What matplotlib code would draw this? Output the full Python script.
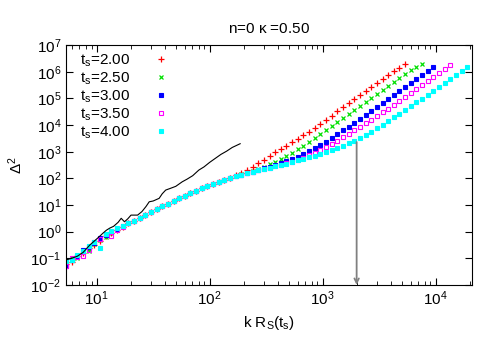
import matplotlib
matplotlib.use("Agg")
import matplotlib.pyplot as plt
import numpy as np

plt.rcParams['font.family'] = ['Liberation Sans', 'DejaVu Sans']
plt.rcParams['mathtext.fontset'] = 'custom'
plt.rcParams['mathtext.rm'] = 'Liberation Sans'
plt.rcParams['mathtext.it'] = 'Liberation Sans:italic'
plt.rcParams['mathtext.default'] = 'rm'

# log10 of k R_S(t_s) grid shared by the series
logk = [0.73, 0.78, 0.83, 0.88, 0.93, 0.98, 1.03, 1.08, 1.13, 1.18, 1.23, 1.28,
        1.33, 1.38, 1.43, 1.48, 1.53, 1.58, 1.63, 1.68, 1.73, 1.78, 1.83, 1.88,
        1.93, 1.98, 2.03, 2.08, 2.13, 2.18, 2.23, 2.28, 2.33, 2.38, 2.43, 2.48,
        2.53, 2.58, 2.63, 2.68, 2.73, 2.78, 2.83, 2.88, 2.93, 2.98, 3.03, 3.08,
        3.13, 3.18, 3.23, 3.28, 3.33, 3.38, 3.43, 3.48, 3.53, 3.58, 3.63, 3.68,
        3.73, 3.78, 3.83, 3.88, 3.93, 3.98, 4.03, 4.08, 4.13, 4.18, 4.23, 4.28]

# log10 of Delta^2 for each t_s
d_200 = [-1.20, -1.15, -0.92, -0.80, -0.62, -0.52, -0.35, -0.17, -0.05, 0.07, 0.19, 0.31,
         0.41, 0.51, 0.62, 0.73, 0.84, 0.95, 1.05, 1.15, 1.25, 1.35, 1.45, 1.54,
         1.63, 1.71, 1.79, 1.87, 1.95, 2.03, 2.11, 2.20, 2.31, 2.43, 2.56, 2.70,
         2.84, 2.98, 3.10, 3.23, 3.35, 3.48, 3.61, 3.75, 3.89, 4.04, 4.19, 4.35,
         4.51, 4.66, 4.82, 4.97, 5.12, 5.27, 5.42, 5.57, 5.72, 5.87, 6.02, 6.16,
         6.30]
d_250 = [-1.10, -1.00, -0.98, -0.75, -0.72, -0.48, -0.30, -0.22, -0.05, 0.07, 0.20, 0.31,
         0.41, 0.51, 0.62, 0.73, 0.84, 0.95, 1.05, 1.15, 1.25, 1.35, 1.45, 1.54,
         1.63, 1.71, 1.79, 1.87, 1.94, 2.01, 2.08, 2.15, 2.21, 2.28, 2.35, 2.43,
         2.52, 2.62, 2.73, 2.85, 2.97, 3.10, 3.23, 3.37, 3.51, 3.66, 3.81, 3.96,
         4.11, 4.26, 4.41, 4.56, 4.71, 4.86, 5.01, 5.16, 5.31, 5.46, 5.61, 5.76,
         5.91, 6.05, 6.18, 6.28]
d_300 = [-1.28, -1.05, -0.90, -0.70, -0.58, -0.42, -0.25, -0.13, -0.02, 0.08, 0.20, 0.31,
         0.41, 0.51, 0.62, 0.73, 0.84, 0.95, 1.05, 1.15, 1.25, 1.35, 1.45, 1.54,
         1.63, 1.71, 1.79, 1.87, 1.94, 2.01, 2.07, 2.13, 2.19, 2.25, 2.31, 2.37,
         2.43, 2.50, 2.57, 2.64, 2.72, 2.81, 2.91, 3.02, 3.13, 3.25, 3.38, 3.52,
         3.66, 3.80, 3.94, 4.09, 4.24, 4.39, 4.54, 4.69, 4.84, 4.99, 5.14, 5.29,
         5.44, 5.59, 5.74, 5.89, 6.04, 6.19]
d_350 = [-1.28, -1.00, -0.96, -0.92, -0.70, -0.40, -0.28, -0.08, -0.18, 0.05, 0.18, 0.31,
         0.41, 0.51, 0.62, 0.73, 0.84, 0.95, 1.05, 1.15, 1.25, 1.35, 1.45, 1.54,
         1.63, 1.71, 1.79, 1.87, 1.94, 2.01, 2.07, 2.13, 2.19, 2.25, 2.30, 2.35,
         2.40, 2.45, 2.50, 2.56, 2.62, 2.69, 2.77, 2.86, 2.96, 3.07, 3.18, 3.30,
         3.42, 3.55, 3.68, 3.81, 3.94, 4.07, 4.20, 4.34, 4.48, 4.62, 4.76, 4.90,
         5.05, 5.20, 5.35, 5.50, 5.65, 5.80, 5.95, 6.10, 6.25]
d_400 = [-1.10, -1.05, -0.88, -0.72, -0.55, -0.40, -0.62, -0.10, 0.04, 0.12, 0.22, 0.32,
         0.41, 0.51, 0.62, 0.73, 0.84, 0.95, 1.05, 1.15, 1.25, 1.35, 1.45, 1.54,
         1.63, 1.71, 1.79, 1.87, 1.94, 2.01, 2.07, 2.13, 2.19, 2.25, 2.30, 2.35,
         2.40, 2.45, 2.50, 2.55, 2.61, 2.67, 2.73, 2.79, 2.85, 2.91, 2.98, 3.05,
         3.13, 3.22, 3.31, 3.41, 3.52, 3.63, 3.75, 3.88, 4.01, 4.15, 4.29, 4.43,
         4.57, 4.71, 4.85, 4.99, 5.14, 5.29, 5.44, 5.59, 5.74, 5.89, 6.04, 6.19]

# black reference line (log10 x, log10 y)
line_logx = [0.73, 0.78, 0.83, 0.88, 0.94, 0.98, 1.02, 1.055, 1.085, 1.115, 1.15, 1.19,
             1.217, 1.246, 1.275, 1.304, 1.362, 1.40, 1.436, 1.465, 1.50, 1.553, 1.58,
             1.611, 1.65, 1.70, 1.757, 1.80, 1.85, 1.904, 1.95, 2.0, 2.05, 2.10, 2.15,
             2.20, 2.27]
line_logy = [-1.06, -1.0, -0.92, -0.78, -0.50, -0.35, -0.20, -0.06, 0.05, 0.13, 0.20, 0.35,
             0.50, 0.37, 0.48, 0.62, 0.62, 0.75, 0.94, 1.12, 1.15, 1.25, 1.42,
             1.56, 1.62, 1.70, 1.87, 1.97, 2.10, 2.31, 2.43, 2.60, 2.75, 2.90, 3.02,
             3.16, 3.30]

labels = ['2.00', '2.50', '3.00', '3.50', '4.00']
series = [d_200, d_250, d_300, d_350, d_400]
colors = ['red', '#00e000', 'blue', 'magenta', 'cyan']
markers = ['+', 'x', 's', 's', 's']
filled = [True, True, True, False, True]
sizes = [3.8, 3.2, 2.4, 2.8, 2.6]

fig = plt.figure(figsize=(5, 3.5), dpi=100)
ax = fig.add_axes([0.132, 0.186, 0.812, 0.685])

k = 10 ** np.array(logk)
for d, lab, c, m, f, ms in zip(series, labels, colors, markers, filled, sizes):
    x = k[:len(d)]
    y = 10 ** np.array(d)
    if m == 's':
        ax.plot(x, y, ls='none', marker=m, ms=ms, mew=0.8,
                mfc=c if f else 'none', mec=c,
                label=r'$\mathrm{t_s}$=' + lab)
    else:
        ax.plot(x, y, ls='none', marker=m, ms=ms, mew=0.9, color=c,
                label=r'$\mathrm{t_s}$=' + lab)

ax.plot(10 ** np.array(line_logx), 10 ** np.array(line_logy), color='black', lw=0.8)

ax.annotate('', xy=(2000, 0.01), xytext=(2000, 2300),
            arrowprops=dict(arrowstyle='->', color='gray', lw=1.3,
                            shrinkA=0, shrinkB=0, mutation_scale=8))

ax.set_xscale('log')
ax.set_yscale('log')
ax.set_xlim(5.35, 2.1e4)
ax.set_ylim(1e-2, 1e7)
ax.set_yticks([10.0 ** e for e in range(-2, 8)])
ax.yaxis.set_minor_locator(matplotlib.ticker.NullLocator())
ax.tick_params(which='both', direction='in', top=True, right=True, labelsize=11)
ax.tick_params(which='major', length=5, width=0.8)
ax.tick_params(which='minor', length=3, width=0.6)
for s in ax.spines.values():
    s.set_linewidth(0.8)

ax.set_title(r'n=0 $\kappa$ =0.50', fontsize=11, pad=9)
ax.set_xlabel(r'k $\mathrm{R_S(t_s)}$', fontsize=11, labelpad=4)
ax.set_ylabel(r'$\Delta^2$', fontsize=11, labelpad=4)

ax.legend(loc='upper left', frameon=False, markerfirst=False, fontsize=11,
          labelspacing=0.1, handlelength=1.5, handletextpad=1.3,
          borderaxespad=0.2, borderpad=0.3, numpoints=1,
          bbox_to_anchor=(0.015, 1.0))

fig.savefig('out.png', dpi=100)
